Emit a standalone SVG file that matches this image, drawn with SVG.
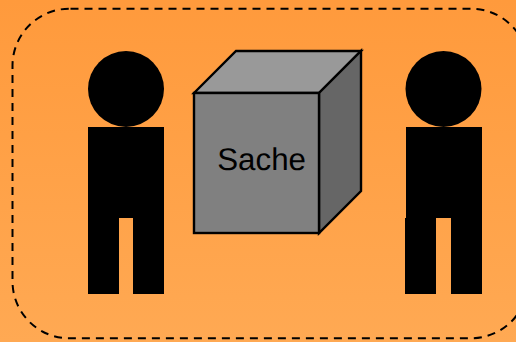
<svg xmlns="http://www.w3.org/2000/svg" width="516" height="342" viewBox="0 0 516 342">
  <defs>
    <linearGradient id="bg" x1="0" y1="0" x2="0" y2="1">
      <stop offset="0" stop-color="#ff9a3c"/>
      <stop offset="1" stop-color="#ffa953"/>
    </linearGradient>
  </defs>
  <style>
    .figure { fill: #000; }
    .face { stroke: #000; stroke-width: 2.4; stroke-linejoin: miter; }
    .label { font-family: "Liberation Sans", Arial, sans-serif; font-size: 31.3px; fill: #000; text-rendering: geometricPrecision; }
  </style>
  <rect width="516" height="342" fill="url(#bg)"/>
  <rect id="frame" x="12.5" y="8.7" width="515.5" height="329.6" rx="57" ry="57" fill="none" stroke="#000" stroke-width="2" stroke-dasharray="8 6" stroke-dashoffset="-1"/>
  <g id="person-left" class="figure">
    <circle cx="126" cy="89" r="38"/>
    <rect x="88" y="127" width="76" height="91"/>
    <rect x="88" y="218" width="31" height="76"/>
    <rect x="133" y="218" width="31" height="76"/>
  </g>
  <g id="person-right" class="figure">
    <circle cx="443.5" cy="89" r="38"/>
    <rect x="406" y="127" width="76" height="91"/>
    <rect x="405" y="218" width="31" height="76"/>
    <rect x="451" y="218" width="31" height="76"/>
  </g>
  <g id="cube">
    <polygon class="face" points="194,93 236,51 361,51 319,93" fill="#999"/>
    <polygon class="face" points="319,93 361,51 361,191 319,233" fill="#666"/>
    <rect class="face" x="194" y="93" width="125" height="140" fill="#808080"/>
    <text class="label" x="261.6" y="170" text-anchor="middle">Sache</text>
  </g>
  <g id="connectors"/>
</svg>
